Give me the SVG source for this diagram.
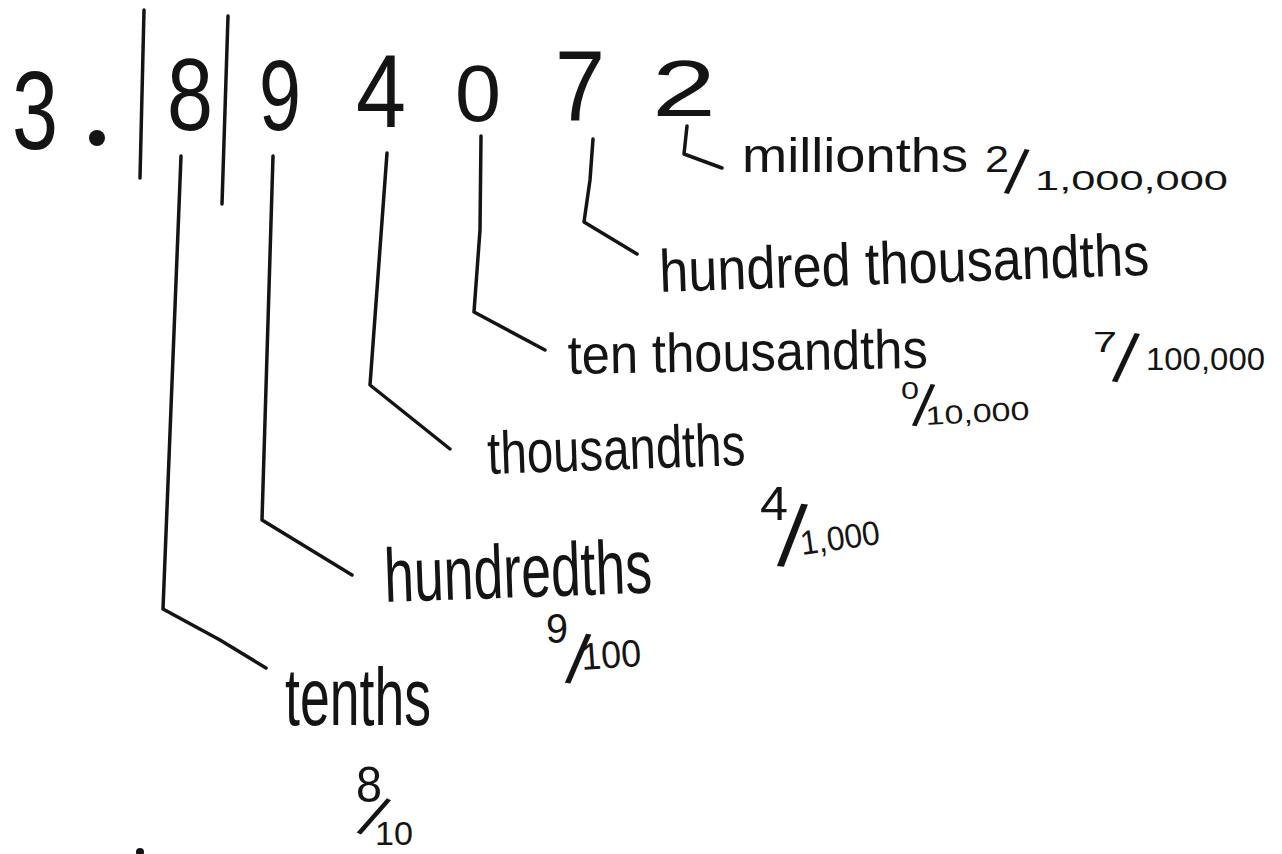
<svg xmlns="http://www.w3.org/2000/svg" width="1282" height="854" viewBox="0 0 1282 854">
<style>
.hw{font-family:"Liberation Sans",Arial,sans-serif;fill:#141414}
.ln{fill:none;stroke:#141414;stroke-width:3.5;stroke-linecap:round;stroke-linejoin:round}
</style>
<rect width="1282" height="854" fill="#ffffff"/>
<g id="number">
  <text class="hw" x="12" y="149" font-size="112" textLength="46" lengthAdjust="spacingAndGlyphs">3</text>
  <circle cx="97" cy="138" r="8" fill="#141414"/>
  <text class="hw" x="167" y="130" font-size="102" textLength="46" lengthAdjust="spacingAndGlyphs">8</text>
  <text class="hw" x="259" y="130" font-size="100" textLength="42" lengthAdjust="spacingAndGlyphs">9</text>
  <text class="hw" x="356" y="127" font-size="104" textLength="50" lengthAdjust="spacingAndGlyphs">4</text>
  <text class="hw" x="455" y="121" font-size="80" textLength="46" lengthAdjust="spacingAndGlyphs">0</text>
  <text class="hw" x="555" y="121" font-size="100" textLength="50" lengthAdjust="spacingAndGlyphs">7</text>
  <text class="hw" x="652" y="116" font-size="80" textLength="64" lengthAdjust="spacingAndGlyphs">2</text>
</g>
<g id="separators">
  <path class="ln" d="M144 10 L140 178"/>
  <path class="ln" d="M228 16 L222 204"/>
</g>
<g id="connectors">
  <path class="ln" d="M181 156 L163 609 L220 640 L266 668"/>
  <path class="ln" d="M273 156 L262 520 L352 575"/>
  <path class="ln" d="M387 153 L370 385 L450 449"/>
  <path class="ln" d="M481 136 L480 230 L474 312 L545 350"/>
  <path class="ln" d="M593 139 L590 180 L584 222 L637 254"/>
  <path class="ln" d="M687 126 L684 154 L722 168"/>
</g>
<g id="label-millionths">
  <text class="hw" x="742" y="172" font-size="48" textLength="226" lengthAdjust="spacingAndGlyphs">millionths</text>
  <text class="hw" x="985" y="172" font-size="36" textLength="24" lengthAdjust="spacingAndGlyphs">2</text>
  <text class="hw" x="1004" y="194" font-size="64" transform="rotate(10 1012 194)">/</text>
  <text class="hw" x="1035" y="190" font-size="28" textLength="193" lengthAdjust="spacingAndGlyphs">1,000,000</text>
</g>
<g id="label-hundred-thousandths">
  <text class="hw" x="660" y="292" font-size="60" textLength="490" lengthAdjust="spacingAndGlyphs" transform="rotate(-2 660 292)">hundred thousandths</text>
  <text class="hw" x="1093" y="352" font-size="30" textLength="24" lengthAdjust="spacingAndGlyphs">7</text>
  <text class="hw" x="1112" y="382" font-size="70" transform="rotate(10 1120 382)">/</text>
  <text class="hw" x="1146" y="370" font-size="32" textLength="119" lengthAdjust="spacingAndGlyphs">100,000</text>
</g>
<g id="label-ten-thousandths">
  <text class="hw" x="568" y="374" font-size="55" textLength="360" lengthAdjust="spacingAndGlyphs" transform="rotate(-1 568 374)">ten thousandths</text>
  <text class="hw" x="901" y="399" font-size="24" textLength="18" lengthAdjust="spacingAndGlyphs">0</text>
  <text class="hw" x="912" y="426" font-size="60" transform="rotate(9 918 426)">/</text>
  <text class="hw" x="926" y="425" font-size="26" textLength="104" lengthAdjust="spacingAndGlyphs" transform="rotate(-3 926 425)">10,000</text>
</g>
<g id="label-thousandths">
  <text class="hw" x="488" y="474" font-size="60" textLength="258" lengthAdjust="spacingAndGlyphs" transform="rotate(-2 488 474)">thousandths</text>
  <text class="hw" x="760" y="520" font-size="48" textLength="28" lengthAdjust="spacingAndGlyphs">4</text>
  <text class="hw" x="777" y="566" font-size="88" transform="rotate(6 785 566)">/</text>
  <text class="hw" x="802" y="555" font-size="34" textLength="80" lengthAdjust="spacingAndGlyphs" transform="rotate(-8 802 555)">1,000</text>
</g>
<g id="label-hundredths">
  <text class="hw" x="385" y="602" font-size="76" textLength="268" lengthAdjust="spacingAndGlyphs" transform="rotate(-2 385 602)">hundredths</text>
  <text class="hw" x="546" y="643" font-size="42" textLength="22" lengthAdjust="spacingAndGlyphs">9</text>
  <text class="hw" x="565" y="683" font-size="70" transform="rotate(8 572 683)">/</text>
  <text class="hw" x="582" y="670" font-size="38" textLength="60" lengthAdjust="spacingAndGlyphs" transform="rotate(-4 582 670)">100</text>
</g>
<g id="label-tenths">
  <text class="hw" x="285" y="725" font-size="82" textLength="146" lengthAdjust="spacingAndGlyphs">tenths</text>
  <text class="hw" x="356" y="802" font-size="50" textLength="26" lengthAdjust="spacingAndGlyphs">8</text>
  <text class="hw" x="356" y="836" font-size="60" transform="rotate(26 365 836)">/</text>
  <text class="hw" x="375" y="845" font-size="34" textLength="38" lengthAdjust="spacingAndGlyphs">10</text>
</g>
<circle cx="140" cy="852" r="4" fill="#141414"/>
</svg>
